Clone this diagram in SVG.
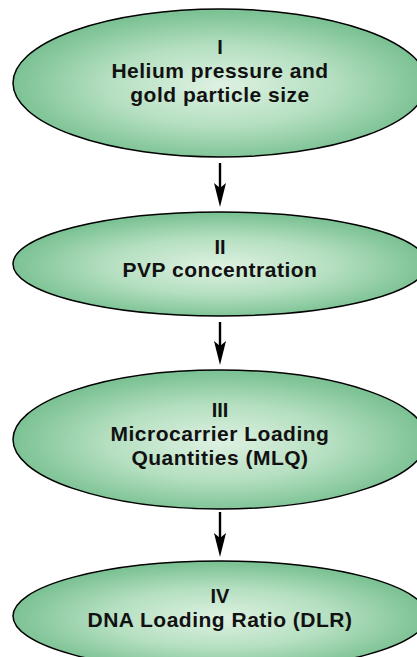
<svg xmlns="http://www.w3.org/2000/svg" width="417" height="657" viewBox="0 0 417 657">
  <defs>
    <radialGradient id="g" cx="50%" cy="52%" r="50%">
      <stop offset="0" stop-color="#def1e2"/>
      <stop offset="0.55" stop-color="#b4dfc0"/>
      <stop offset="1" stop-color="#7cc294"/>
    </radialGradient>
    <style>
      .node ellipse { fill: url(#g); stroke: #000; stroke-width: 1.5; }
      .node text { font-family: "Liberation Sans", Arial, sans-serif; font-weight: bold; font-size: 21px; letter-spacing: 0.5px; fill: #111; text-anchor: middle; }
      .node text.num { font-size: 20px; letter-spacing: 0; }
      .edge { stroke: #000; stroke-width: 2.4; fill: none; }
      .head { fill: #000; }
    </style>
  </defs>
  <rect width="417" height="657" fill="#fff"/>
  <g id="connectors">
    <line class="edge" x1="220" y1="163" x2="220" y2="190"/>
    <path class="head" d="M220,207 L214,183 L220,188 L226,183 Z"/>
    <line class="edge" x1="220" y1="322" x2="220" y2="348"/>
    <path class="head" d="M220,365 L214,341 L220,346 L226,341 Z"/>
    <line class="edge" x1="220" y1="512" x2="220" y2="540"/>
    <path class="head" d="M220,557 L214,533 L220,538 L226,533 Z"/>
  </g>
  <g id="node1" class="node">
    <ellipse cx="220" cy="83" rx="207" ry="74"/>
    <text class="num" x="220" y="54">I</text>
    <text x="220" y="78">Helium pressure and</text>
    <text x="220" y="102">gold particle size</text>
  </g>
  <g id="node2" class="node">
    <ellipse cx="220" cy="264" rx="207" ry="52"/>
    <text class="num" x="220" y="254">II</text>
    <text x="220" y="277">PVP concentration</text>
  </g>
  <g id="node3" class="node">
    <ellipse cx="220" cy="439.5" rx="207" ry="69.5"/>
    <text class="num" x="220" y="417">III</text>
    <text x="220" y="441">Microcarrier Loading</text>
    <text x="220" y="465">Quantities (MLQ)</text>
  </g>
  <g id="node4" class="node">
    <ellipse cx="220" cy="616" rx="207" ry="55"/>
    <text class="num" x="220" y="603">IV</text>
    <text x="220" y="627">DNA Loading Ratio (DLR)</text>
  </g>
</svg>
